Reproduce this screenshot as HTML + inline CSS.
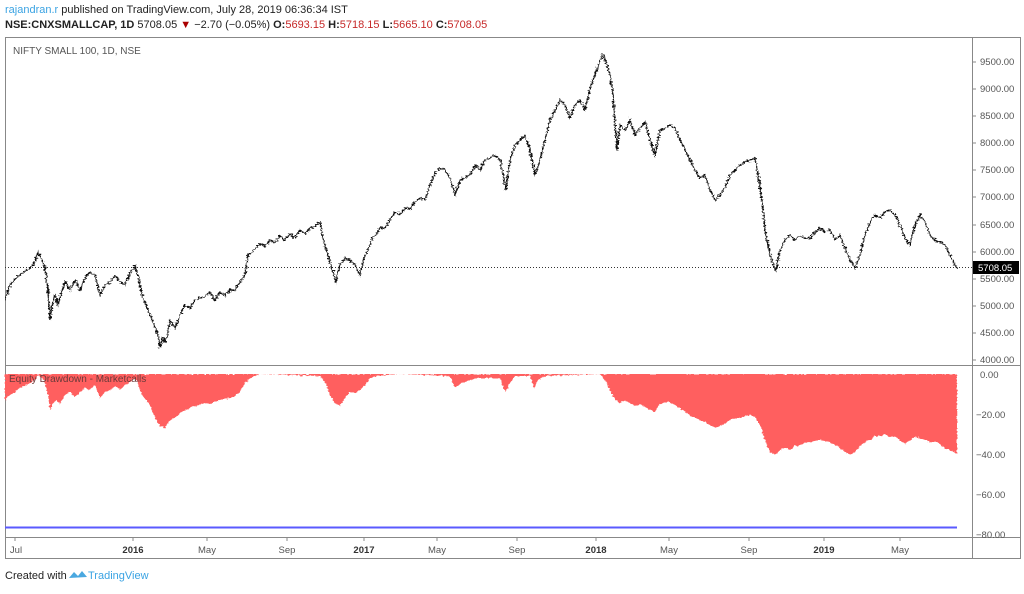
<!DOCTYPE html>
<html><head><meta charset="utf-8"><style>
body{margin:0;width:1024px;height:589px;background:#fff;overflow:hidden;font-family:"Liberation Sans",sans-serif}
svg text{font-family:"Liberation Sans",sans-serif}
</style></head><body>
<svg width="1024" height="589" viewBox="0 0 1024 589" xmlns="http://www.w3.org/2000/svg">
<defs>
<filter id="rough" x="-5%" y="-5%" width="110%" height="110%"><feTurbulence type="fractalNoise" baseFrequency="0.35 0.6" numOctaves="2" seed="3"/><feDisplacementMap in="SourceGraphic" scale="5" xChannelSelector="R" yChannelSelector="G"/></filter>
<filter id="rough2" x="-5%" y="-5%" width="110%" height="110%"><feTurbulence type="fractalNoise" baseFrequency="0.3 0.5" numOctaves="2" seed="7"/><feDisplacementMap in="SourceGraphic" scale="3" xChannelSelector="R" yChannelSelector="G"/></filter>
</defs>
<text x="5" y="13" font-size="11" fill="#3aa3e3">rajandran.r <tspan fill="#222">published on TradingView.com, July 28, 2019 06:36:34 IST</tspan></text>
<text x="5" y="28" font-size="11" fill="#222"><tspan font-weight="bold">NSE:CNXSMALLCAP, 1D</tspan> 5708.05 <tspan fill="#a00">▼</tspan> −2.70 (−0.05%) <tspan font-weight="bold">O:</tspan><tspan fill="#c62828">5693.15</tspan> <tspan font-weight="bold">H:</tspan><tspan fill="#c62828">5718.15</tspan> <tspan font-weight="bold">L:</tspan><tspan fill="#c62828">5665.10</tspan> <tspan font-weight="bold">C:</tspan><tspan fill="#c62828">5708.05</tspan></text>
<rect x="5.5" y="37.5" width="1015" height="521" fill="none" stroke="#888"/>
<line x1="972.5" y1="37" x2="972.5" y2="558" stroke="#888"/>
<line x1="5" y1="365.5" x2="1021" y2="365.5" stroke="#888"/>
<line x1="5" y1="537.5" x2="1021" y2="537.5" stroke="#888"/>
<text x="13" y="54" font-size="10" fill="#555">NIFTY SMALL 100, 1D, NSE</text>
<g font-size="9.5" fill="#555">
<text x="980" y="65">9500.00</text><text x="980" y="92">9000.00</text><text x="980" y="119">8500.00</text><text x="980" y="146">8000.00</text><text x="980" y="173">7500.00</text><text x="980" y="200">7000.00</text><text x="980" y="228">6500.00</text><text x="980" y="255">6000.00</text><text x="980" y="282">5500.00</text><text x="980" y="309">5000.00</text><text x="980" y="336">4500.00</text><text x="980" y="363">4000.00</text>
<text x="980" y="378">0.00</text><text x="976" y="418">−20.00</text><text x="976" y="458">−40.00</text><text x="976" y="498">−60.00</text><text x="976" y="538">−80.00</text>
</g>
<g stroke="#888"><line x1="972" y1="62" x2="976" y2="62"/><line x1="972" y1="89" x2="976" y2="89"/><line x1="972" y1="116" x2="976" y2="116"/><line x1="972" y1="143" x2="976" y2="143"/><line x1="972" y1="170" x2="976" y2="170"/><line x1="972" y1="197" x2="976" y2="197"/><line x1="972" y1="225" x2="976" y2="225"/><line x1="972" y1="252" x2="976" y2="252"/><line x1="972" y1="279" x2="976" y2="279"/><line x1="972" y1="306" x2="976" y2="306"/><line x1="972" y1="333" x2="976" y2="333"/><line x1="972" y1="360" x2="976" y2="360"/></g>
<line x1="5" y1="267.5" x2="972" y2="267.5" stroke="#333" stroke-dasharray="1,2"/>
<rect x="973" y="261" width="46" height="13" fill="#000"/>
<text x="978" y="271" font-size="9.5" fill="#fff">5708.05</text>
<polyline filter="url(#rough)" fill="none" stroke="#111" stroke-width="1.4" points="5,300 10,285 15,279 20,275 25,271 30,268 35,262 38,252 42,260 45,268 48,290 50,320 53,300 55,295 58,305 62,290 65,282 70,290 75,280 80,290 85,278 90,272 95,275 100,295 105,285 110,282 115,276 120,282 125,285 130,273 135,266 138,275 142,295 146,305 150,315 154,325 158,335 160,348 163,338 166,342 170,320 175,328 180,315 185,305 190,308 195,300 200,298 205,296 210,292 215,300 220,292 225,296 230,290 235,290 240,282 245,275 248,255 252,252 256,248 260,244 265,246 270,240 275,243 280,236 285,240 290,234 295,238 300,230 305,234 310,228 315,226 320,222 322,235 326,250 330,262 333,272 336,282 340,265 345,258 350,260 355,265 360,275 364,258 368,250 372,238 376,235 380,228 385,228 390,220 395,212 400,215 405,208 410,209 415,202 420,198 425,200 430,185 435,173 440,168 445,170 450,178 455,195 460,180 465,178 470,175 475,165 480,170 485,160 490,158 495,155 500,160 503,175 506,190 510,160 515,145 520,140 525,135 530,150 535,175 540,160 545,140 550,120 555,110 560,100 565,105 570,118 575,105 580,100 585,110 590,88 595,75 600,60 603,55 606,62 610,75 613,95 617,150 620,125 625,130 630,120 635,135 640,128 645,122 650,140 655,155 660,130 665,128 670,125 675,128 680,140 685,150 690,160 695,170 700,178 705,175 710,190 715,200 720,195 725,188 730,175 735,170 740,165 745,162 750,160 755,158 758,175 762,200 765,230 768,245 772,262 776,270 780,250 785,240 790,235 795,240 800,236 805,238 810,238 815,232 820,228 825,232 830,230 835,240 840,235 845,248 850,260 855,268 860,255 865,235 870,222 875,215 880,218 885,212 890,210 895,215 900,225 905,238 910,245 915,225 920,215 925,222 930,235 935,240 940,242 945,245 950,255 955,265 957,268"/>
<polygon filter="url(#rough2)" fill="#ff5e5e" points="5,374 5,400 10,395 15,392 20,388 25,386 30,383 35,380 38,375 42,378 45,383 48,395 50,410 53,403 56,400 60,404 65,395 70,392 75,397 80,392 85,388 90,390 95,385 100,398 105,392 110,390 115,386 120,390 125,385 130,382 135,378 138,384 142,395 146,400 150,405 155,418 160,426 165,428 170,420 175,418 180,413 185,410 190,408 195,406 200,405 205,403 210,404 220,400 230,398 235,396 240,392 245,383 250,378 255,376 260,374 320,376 325,382 330,395 335,403 340,406 345,398 350,392 355,393 360,390 365,385 370,378 375,376 400,374 450,376 455,388 460,384 470,380 480,378 490,378 500,378 505,392 510,383 515,376 530,376 534,388 538,380 545,376 600,374 605,380 610,390 615,400 620,403 625,400 630,403 635,406 640,404 645,407 650,410 655,412 660,404 665,402 670,402 675,405 680,408 685,412 690,415 695,418 700,420 705,422 710,425 715,428 720,426 725,424 730,420 735,418 740,418 745,416 750,415 755,417 760,425 765,440 770,452 775,455 780,450 785,448 790,450 795,446 800,445 810,442 820,440 830,442 840,448 845,452 850,455 855,452 860,446 865,442 870,440 875,436 880,436 885,434 890,437 895,436 900,440 905,444 910,440 915,437 920,438 925,440 930,442 935,442 940,444 945,448 950,450 957,454 957,374"/>
<rect x="6" y="366" width="966" height="8" fill="#fff"/>
<text x="9" y="382" font-size="10" fill="#6a3a3a">Equity Drawdown - Marketcalls</text>
<line x1="5" y1="527.5" x2="957" y2="527.5" stroke="#5a5aff" stroke-width="2"/>
<g stroke="#888"><line x1="15" y1="537" x2="15" y2="541"/><line x1="133" y1="537" x2="133" y2="541"/><line x1="207" y1="537" x2="207" y2="541"/><line x1="287" y1="537" x2="287" y2="541"/><line x1="364" y1="537" x2="364" y2="541"/><line x1="437" y1="537" x2="437" y2="541"/><line x1="517" y1="537" x2="517" y2="541"/><line x1="596" y1="537" x2="596" y2="541"/><line x1="669" y1="537" x2="669" y2="541"/><line x1="749" y1="537" x2="749" y2="541"/><line x1="824" y1="537" x2="824" y2="541"/><line x1="900" y1="537" x2="900" y2="541"/></g>
<g font-size="9.5" fill="#555" text-anchor="middle">
<text x="16" y="553">Jul</text><text x="133" y="553" font-weight="bold" fill="#333">2016</text><text x="207" y="553">May</text><text x="287" y="553">Sep</text><text x="364" y="553" font-weight="bold" fill="#333">2017</text><text x="437" y="553">May</text><text x="517" y="553">Sep</text><text x="596" y="553" font-weight="bold" fill="#333">2018</text><text x="669" y="553">May</text><text x="749" y="553">Sep</text><text x="824" y="553" font-weight="bold" fill="#333">2019</text><text x="900" y="553">May</text>
</g>
<text x="5" y="579" font-size="11" fill="#222">Created with</text>
<path d="M69,578 l5,-6 l4,4 l4,-5 l5,6 z" fill="#4aa8e0"/>
<text x="88" y="579" font-size="11" fill="#3aa3e3">TradingView</text>
</svg>
</body></html>
